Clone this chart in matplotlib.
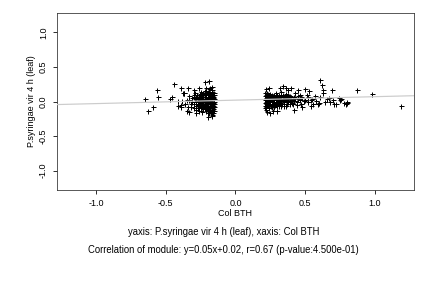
import matplotlib
matplotlib.use("Agg")
import matplotlib.pyplot as plt
import numpy as np

# left cluster (Col BTH < 0)
left_pts = [
    (-0.16, 0.12), (-0.17, 0.08), (-0.18, 0.03), (-0.16, -0.02), (-0.17, -0.07), (-0.16, -0.11),
    (-0.18, -0.14), (-0.17, 0.14), (-0.19, 0.10), (-0.20, 0.05), (-0.19, 0.00), (-0.20, -0.04),
    (-0.19, -0.09), (-0.18, -0.12), (-0.21, 0.12), (-0.22, 0.07), (-0.21, 0.02), (-0.22, -0.03),
    (-0.21, -0.07), (-0.23, -0.11), (-0.23, 0.10), (-0.24, 0.04), (-0.23, -0.01), (-0.24, -0.06),
    (-0.25, 0.08), (-0.26, 0.02), (-0.25, -0.03), (-0.26, -0.08), (-0.27, 0.05), (-0.28, -0.01),
    (-0.27, -0.05), (-0.29, 0.03), (-0.16, 0.05), (-0.165, -0.05), (-0.175, 0.11), (-0.185, -0.03),
    (-0.195, 0.06), (-0.205, -0.11), (-0.215, 0.09), (-0.225, -0.06), (-0.235, 0.13), (-0.245, -0.09),
    (-0.255, 0.11), (-0.265, -0.04), (-0.275, 0.09), (-0.285, -0.06), (-0.155, 0.00), (-0.155, -0.08),
    (-0.155, 0.09), (-0.16, -0.16), (-0.17, -0.19), (-0.165, -0.21), (-0.18, 0.20), (-0.17, 0.21),
    (-0.165, 0.17), (-0.19, 0.18), (-0.20, 0.14), (-0.22, 0.15), (-0.25, 0.14), (-0.30, 0.10),
    (-0.31, 0.00), (-0.32, -0.04), (-0.30, -0.10), (-0.33, 0.08), (-0.35, 0.02), (-0.36, -0.03),
    (-0.34, -0.08), (-0.38, 0.01), (-0.37, 0.13), (-0.39, -0.05), (-0.29, 0.12), (-0.28, -0.12),
    (-0.26, -0.13), (-0.24, -0.15), (-0.21, -0.14), (-0.19, -0.16), (-0.175, -0.17),
    (-0.647, 0.033), (-0.628, -0.14), (-0.592, -0.078), (-0.563, 0.164), (-0.556, 0.062),
    (-0.438, 0.25), (-0.47, 0.03), (-0.455, 0.06), (-0.41, 0.01), (-0.388, 0.19), (-0.372, 0.13),
    (-0.377, 0.12), (-0.34, 0.19), (-0.30, 0.17), (-0.26, 0.19), (-0.22, 0.28), (-0.19, 0.29),
    (-0.21, 0.19), (-0.20, -0.17), (-0.20, -0.22), (-0.35, -0.13), (-0.33, -0.15), (-0.28, -0.17),
    (-0.41, -0.07), (-0.39, -0.08),
    (-0.155, 0.04), (-0.155, -0.04), (-0.155, 0.13), (-0.155, -0.13), (-0.16, 0.07), (-0.16, -0.06),
    (-0.165, 0.02), (-0.165, 0.10), (-0.165, -0.09), (-0.17, 0.04), (-0.17, -0.03), (-0.17, -0.12),
    (-0.175, 0.07), (-0.175, 0.00), (-0.175, -0.06), (-0.18, 0.12), (-0.18, -0.09), (-0.18, 0.06),
    (-0.185, 0.01), (-0.185, 0.09), (-0.185, -0.06), (-0.19, 0.03), (-0.19, -0.12), (-0.19, 0.13),
    (-0.195, -0.02), (-0.195, 0.09), (-0.20, -0.08), (-0.20, 0.01), (-0.20, 0.11), (-0.205, 0.04),
    (-0.205, -0.06), (-0.21, 0.07), (-0.21, -0.02), (-0.21, -0.11), (-0.215, 0.00), (-0.215, 0.04),
    (-0.22, -0.09), (-0.22, 0.11), (-0.225, 0.02), (-0.23, 0.06), (-0.23, -0.05), (-0.235, -0.09),
    (-0.24, 0.09), (-0.24, 0.00), (-0.245, 0.06), (-0.25, -0.06), (-0.25, 0.03), (-0.255, -0.01),
    (-0.26, 0.07), (-0.265, 0.03), (-0.27, -0.09), (-0.27, 0.01), (-0.28, 0.07), (-0.28, 0.03),
    (-0.285, -0.03), (-0.295, 0.06), (-0.30, -0.03), (-0.31, 0.05), (-0.32, -0.08), (-0.33, 0.02),
]

# right cluster (Col BTH > 0)
right_pts = [
    (0.22, 0.10), (0.22, 0.05), (0.22, 0.00), (0.22, -0.04), (0.22, -0.08), (0.23, 0.13),
    (0.24, 0.07), (0.24, 0.02), (0.24, -0.03), (0.24, -0.07), (0.25, 0.11), (0.26, 0.04),
    (0.26, -0.01), (0.26, -0.05), (0.27, 0.08), (0.28, 0.02), (0.28, -0.03), (0.28, -0.08),
    (0.29, 0.12), (0.30, 0.05), (0.30, 0.00), (0.30, -0.05), (0.31, 0.09), (0.32, 0.03),
    (0.32, -0.02), (0.33, 0.14), (0.33, -0.06), (0.34, 0.07), (0.35, 0.01), (0.35, -0.03),
    (0.36, 0.11), (0.37, 0.04), (0.38, -0.01), (0.39, 0.08), (0.40, 0.02), (0.41, -0.04),
    (0.42, 0.06), (0.43, 0.12), (0.44, 0.00), (0.45, 0.04), (0.46, 0.09), (0.47, -0.03),
    (0.48, 0.05), (0.50, 0.02), (0.51, 0.10), (0.52, -0.01), (0.53, 0.15), (0.55, 0.04),
    (0.56, -0.03), (0.57, 0.08), (0.58, 0.01), (0.60, -0.02), (0.61, 0.07), (0.63, 0.12),
    (0.64, 0.00), (0.66, 0.03), (0.68, -0.01), (0.70, 0.02), (0.72, -0.03), (0.74, 0.05),
    (0.76, 0.03), (0.78, -0.02), (0.80, -0.01), (0.215, 0.02), (0.225, 0.07), (0.235, -0.01),
    (0.245, 0.04), (0.255, -0.06), (0.265, 0.09), (0.275, -0.02), (0.285, 0.06), (0.295, -0.07),
    (0.305, 0.02), (0.315, -0.03), (0.325, 0.08), (0.345, -0.01), (0.355, 0.05), (0.365, -0.06),
    (0.22, 0.18), (0.24, 0.20), (0.22, -0.12), (0.23, -0.15), (0.25, -0.17), (0.27, -0.13),
    (0.30, -0.14), (0.32, 0.19), (0.34, 0.22), (0.36, 0.20), (0.38, 0.16), (0.40, 0.19),
    (0.42, -0.12), (0.45, 0.16), (0.48, -0.08), (0.50, 0.18), (0.54, -0.06), (0.59, -0.04),
    (0.62, 0.24), (0.61, 0.31), (0.63, 0.16), (0.69, 0.16), (0.67, 0.05), (0.71, -0.04),
    (0.75, 0.02), (0.87, 0.17), (0.98, 0.11), (1.19, -0.07), (0.80, -0.02), (0.79, -0.03),
    (0.21, 0.03), (0.21, -0.02), (0.21, 0.08), (0.21, -0.06), (0.215, 0.12), (0.215, -0.09),
    (0.225, -0.02), (0.225, 0.02), (0.23, 0.09), (0.23, -0.05), (0.235, 0.05), (0.235, 0.11),
    (0.24, -0.10), (0.245, 0.00), (0.245, 0.09), (0.25, 0.06), (0.25, -0.03), (0.25, 0.02),
    (0.255, 0.04), (0.26, 0.08), (0.26, -0.08), (0.265, 0.00), (0.27, 0.04), (0.27, -0.05),
    (0.275, 0.06), (0.28, 0.10), (0.28, 0.00), (0.285, -0.05), (0.29, 0.03), (0.29, 0.08),
    (0.295, -0.02), (0.30, 0.10), (0.305, 0.06), (0.31, -0.01), (0.31, 0.04), (0.315, -0.07),
    (0.32, 0.06), (0.325, 0.01), (0.33, 0.04), (0.335, -0.03), (0.34, 0.10), (0.34, 0.02),
    (0.345, 0.05), (0.35, -0.06), (0.355, 0.08), (0.36, 0.02), (0.365, 0.06), (0.37, -0.03),
    (0.375, 0.09), (0.38, 0.03), (0.385, 0.06), (0.39, -0.04), (0.395, 0.01), (0.40, 0.07),
    (0.405, -0.02), (0.41, 0.04), (0.42, 0.01), (0.43, 0.05), (0.44, -0.05), (0.45, 0.08),
    (0.46, 0.02), (0.47, 0.06), (0.49, 0.01), (0.52, 0.06), (0.54, 0.02),
]

slope, intercept = 0.05, 0.02
ticks = [-1.0, -0.5, 0.0, 0.5, 1.0]
tick_labels = ["-1.0", "-0.5", "0.0", "0.5", "1.0"]

plt.rcParams['font.family'] = ['Liberation Sans', 'DejaVu Sans']

fig = plt.figure(figsize=(6, 4), dpi=72)
ax = fig.add_axes([0.132, 0.340, 0.826, 0.615])

pts = np.array(left_pts + right_pts)
ax.plot(pts[:, 0], pts[:, 1], '+', color='black', markersize=5, mew=1.0)

xs = np.array([-1.28, 1.28])
ax.plot(xs, slope * xs + intercept, color='#cccccc', lw=1.2, zorder=3)

ax.set_xlim(-1.28, 1.28)
ax.set_ylim(-1.28, 1.28)
ax.set_xticks(ticks)
ax.set_xticklabels(tick_labels, fontsize=9)
ax.set_yticks(ticks)
ax.set_yticklabels(tick_labels, fontsize=9, rotation=90, va='center')
ax.tick_params(length=4, width=0.8, pad=5)
for s in ax.spines.values():
    s.set_linewidth(0.8)
    s.set_color('#333333')

ax.set_xlabel("Col BTH", fontsize=9, labelpad=1)
ax.set_ylabel("P.syringae vir 4 h (leaf)", fontsize=9, labelpad=3)

fig.text(0.518, 0.194, "yaxis: P.syringae vir 4 h (leaf), xaxis: Col BTH", ha='center', va='center', fontsize=9.5)
fig.text(0.516, 0.132, "Correlation of module: y=0.05x+0.02, r=0.67 (p-value:4.500e-01)", ha='center', va='center', fontsize=9.5)

fig.savefig("out.png", dpi=72)
